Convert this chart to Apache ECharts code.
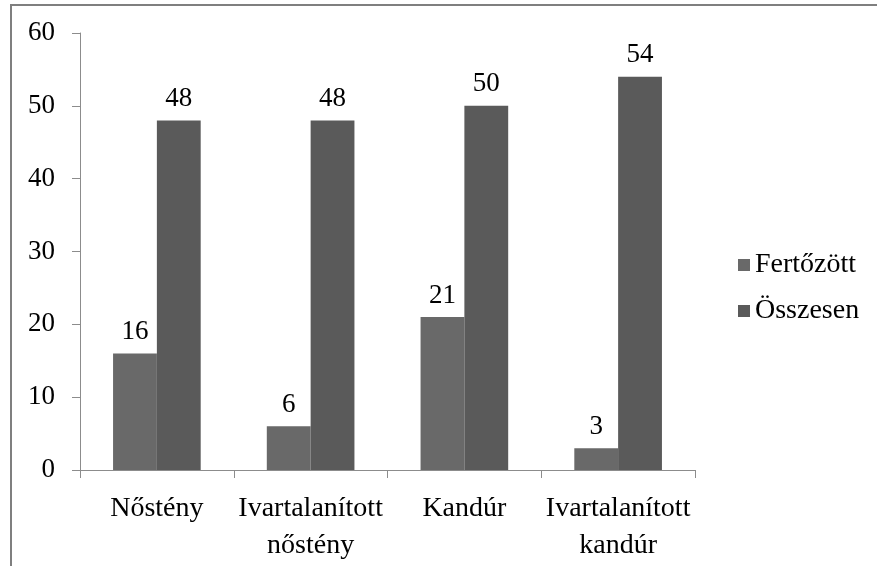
<!DOCTYPE html>
<html>
<head>
<meta charset="utf-8">
<script src="https://cdn.jsdelivr.net/npm/echarts@6/dist/echarts.min.js"></script>
<style>
  html, body { margin: 0; padding: 0; background: #fff; }
  #chart { width: 877px; height: 566px; }
</style>
</head>
<body>
<div id="chart"></div>
<script>
var categories = ['Nőstény', 'Ivartalanított\nnőstény', 'Kandúr', 'Ivartalanított\nkandúr'];
var infected = [16, 6, 21, 3];
var total = [48, 48, 50, 54];
var seriesNames = ['Fertőzött', 'Összesen'];

var font = '"Liberation Serif", "Times New Roman", serif';
var chart = echarts.init(document.getElementById('chart'), null, { renderer: 'canvas' });

chart.setOption({
  animation: false,
  textStyle: { fontFamily: font },
  graphic: [
    { type: 'line', shape: { x1: 10, y1: 5, x2: 877, y2: 5 }, style: { stroke: '#7f7f7f', lineWidth: 2 } },
    { type: 'line', shape: { x1: 11, y1: 5, x2: 11, y2: 566 }, style: { stroke: '#7f7f7f', lineWidth: 2 } }
  ],
  legend: {
    orient: 'vertical',
    left: 733,
    top: 246,
    itemWidth: 12,
    itemHeight: 12,
    itemGap: 18,
    icon: 'rect',
    textStyle: { fontFamily: font, fontSize: 28, color: '#000', padding: [0, 0, 0, 0] },
    data: seriesNames
  },
  grid: { left: 80, top: 33, width: 615, height: 437, containLabel: false },
  xAxis: {
    type: 'category',
    data: categories,
    axisLine: { lineStyle: { color: '#8c8c8c' } },
    axisTick: { show: true, length: 8, lineStyle: { color: '#8c8c8c' } },
    axisLabel: { color: '#000', fontSize: 28, fontFamily: font, margin: 20, lineHeight: 37, interval: 0 }
  },
  yAxis: {
    type: 'value',
    min: 0,
    max: 60,
    interval: 10,
    splitLine: { show: false },
    axisLine: { show: true, lineStyle: { color: '#8c8c8c' } },
    axisTick: { show: true, length: 8, lineStyle: { color: '#8c8c8c' } },
    axisLabel: { color: '#000', fontSize: 27, fontFamily: font, margin: 25 }
  },
  series: [
    {
      name: seriesNames[0],
      type: 'bar',
      data: infected,
      barGap: '0%',
      barCategoryGap: '43%',
      itemStyle: { color: '#696969' },
      label: { show: true, position: 'top', distance: 8, color: '#000', fontSize: 27, fontFamily: font }
    },
    {
      name: seriesNames[1],
      type: 'bar',
      data: total,
      barGap: '0%',
      barCategoryGap: '43%',
      itemStyle: { color: '#5a5a5a' },
      label: { show: true, position: 'top', distance: 8, color: '#000', fontSize: 27, fontFamily: font }
    }
  ]
});
</script>
</body>
</html>
